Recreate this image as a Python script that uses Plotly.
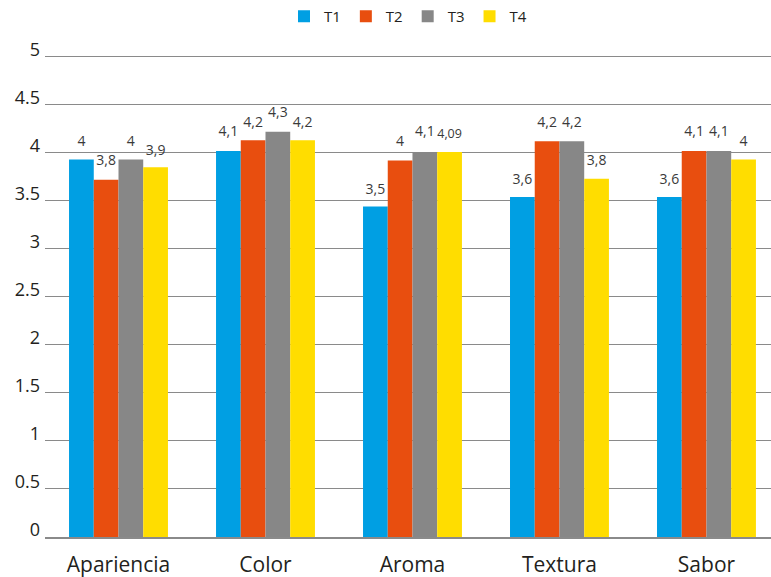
import plotly.graph_objects as go

categories = ["Apariencia", "Color", "Aroma", "Textura", "Sabor"]
series_names = ["T1", "T2", "T3", "T4"]
colors = ["#009FE3", "#E84E0F", "#878787", "#FFDD00"]

# bar heights as drawn
t1 = [3.93, 4.02, 3.44, 3.54, 3.54]
t2 = [3.72, 4.13, 3.92, 4.12, 4.02]
t3 = [3.93, 4.22, 4.01, 4.12, 4.02]
t4 = [3.85, 4.13, 4.01, 3.73, 3.93]
values = [t1, t2, t3, t4]

# data labels as printed
l1 = ["4", "4,1", "3,5", "3,6", "3,6"]
l2 = ["3,8", "4,2", "4", "4,2", "4,1"]
l3 = ["4", "4,3", "4,1", "4,2", "4,1"]
l4 = ["3,9", "4,2", "4,09", "3,8", "4"]
labels = [l1, l2, l3, l4]

y_ticks = [0, 0.5, 1, 1.5, 2, 2.5, 3, 3.5, 4, 4.5, 5]

fig = go.Figure()
for i, name in enumerate(series_names):
    fig.add_trace(go.Bar(
        x=categories, y=values[i], name=name, offsetgroup=str(i),
        marker=dict(color=colors[i], line=dict(width=0)),
    ))
for i, name in enumerate(series_names):
    label_vals = [float(s.replace(",", ".")) for s in labels[i]]
    fig.add_trace(go.Bar(
        x=categories, y=label_vals, offsetgroup=str(i), showlegend=False,
        marker=dict(color="rgba(0,0,0,0)", line=dict(width=0)),
        text=labels[i], textposition="outside", cliponaxis=False,
        textfont=dict(family="Open Sans", size=14, color="#3a3a3a"),
        hoverinfo="skip",
    ))

fig.update_layout(
    width=771, height=577,
    margin=dict(l=45, r=0, t=52, b=40),
    paper_bgcolor="white", plot_bgcolor="white",
    barmode="group", bargap=0.327, bargroupgap=0,
    font=dict(family="Open Sans", color="#231f20"),
    legend=dict(orientation="h", x=0.5, xanchor="center", y=1.0, yref="container",
                yanchor="top", font=dict(size=15, color="#231f20"),
                itemwidth=30, traceorder="normal"),
    xaxis=dict(range=[-0.5, 4.439], showgrid=False, showline=True, linecolor="#8a8a8a",
               linewidth=2, ticks="", tickfont=dict(size=21, color="#231f20"),
               ticklabelstandoff=8),
    yaxis=dict(range=[0, 5.05], tickvals=y_ticks, ticktext=[str(v) for v in y_ticks],
               showgrid=True, gridcolor="#8a8a8a", gridwidth=1, zeroline=False,
               ticks="", tickfont=dict(size=18, color="#231f20"), ticklabelstandoff=4,
               ticklabelshift=-7),
)

fig.write_html("out.html")
